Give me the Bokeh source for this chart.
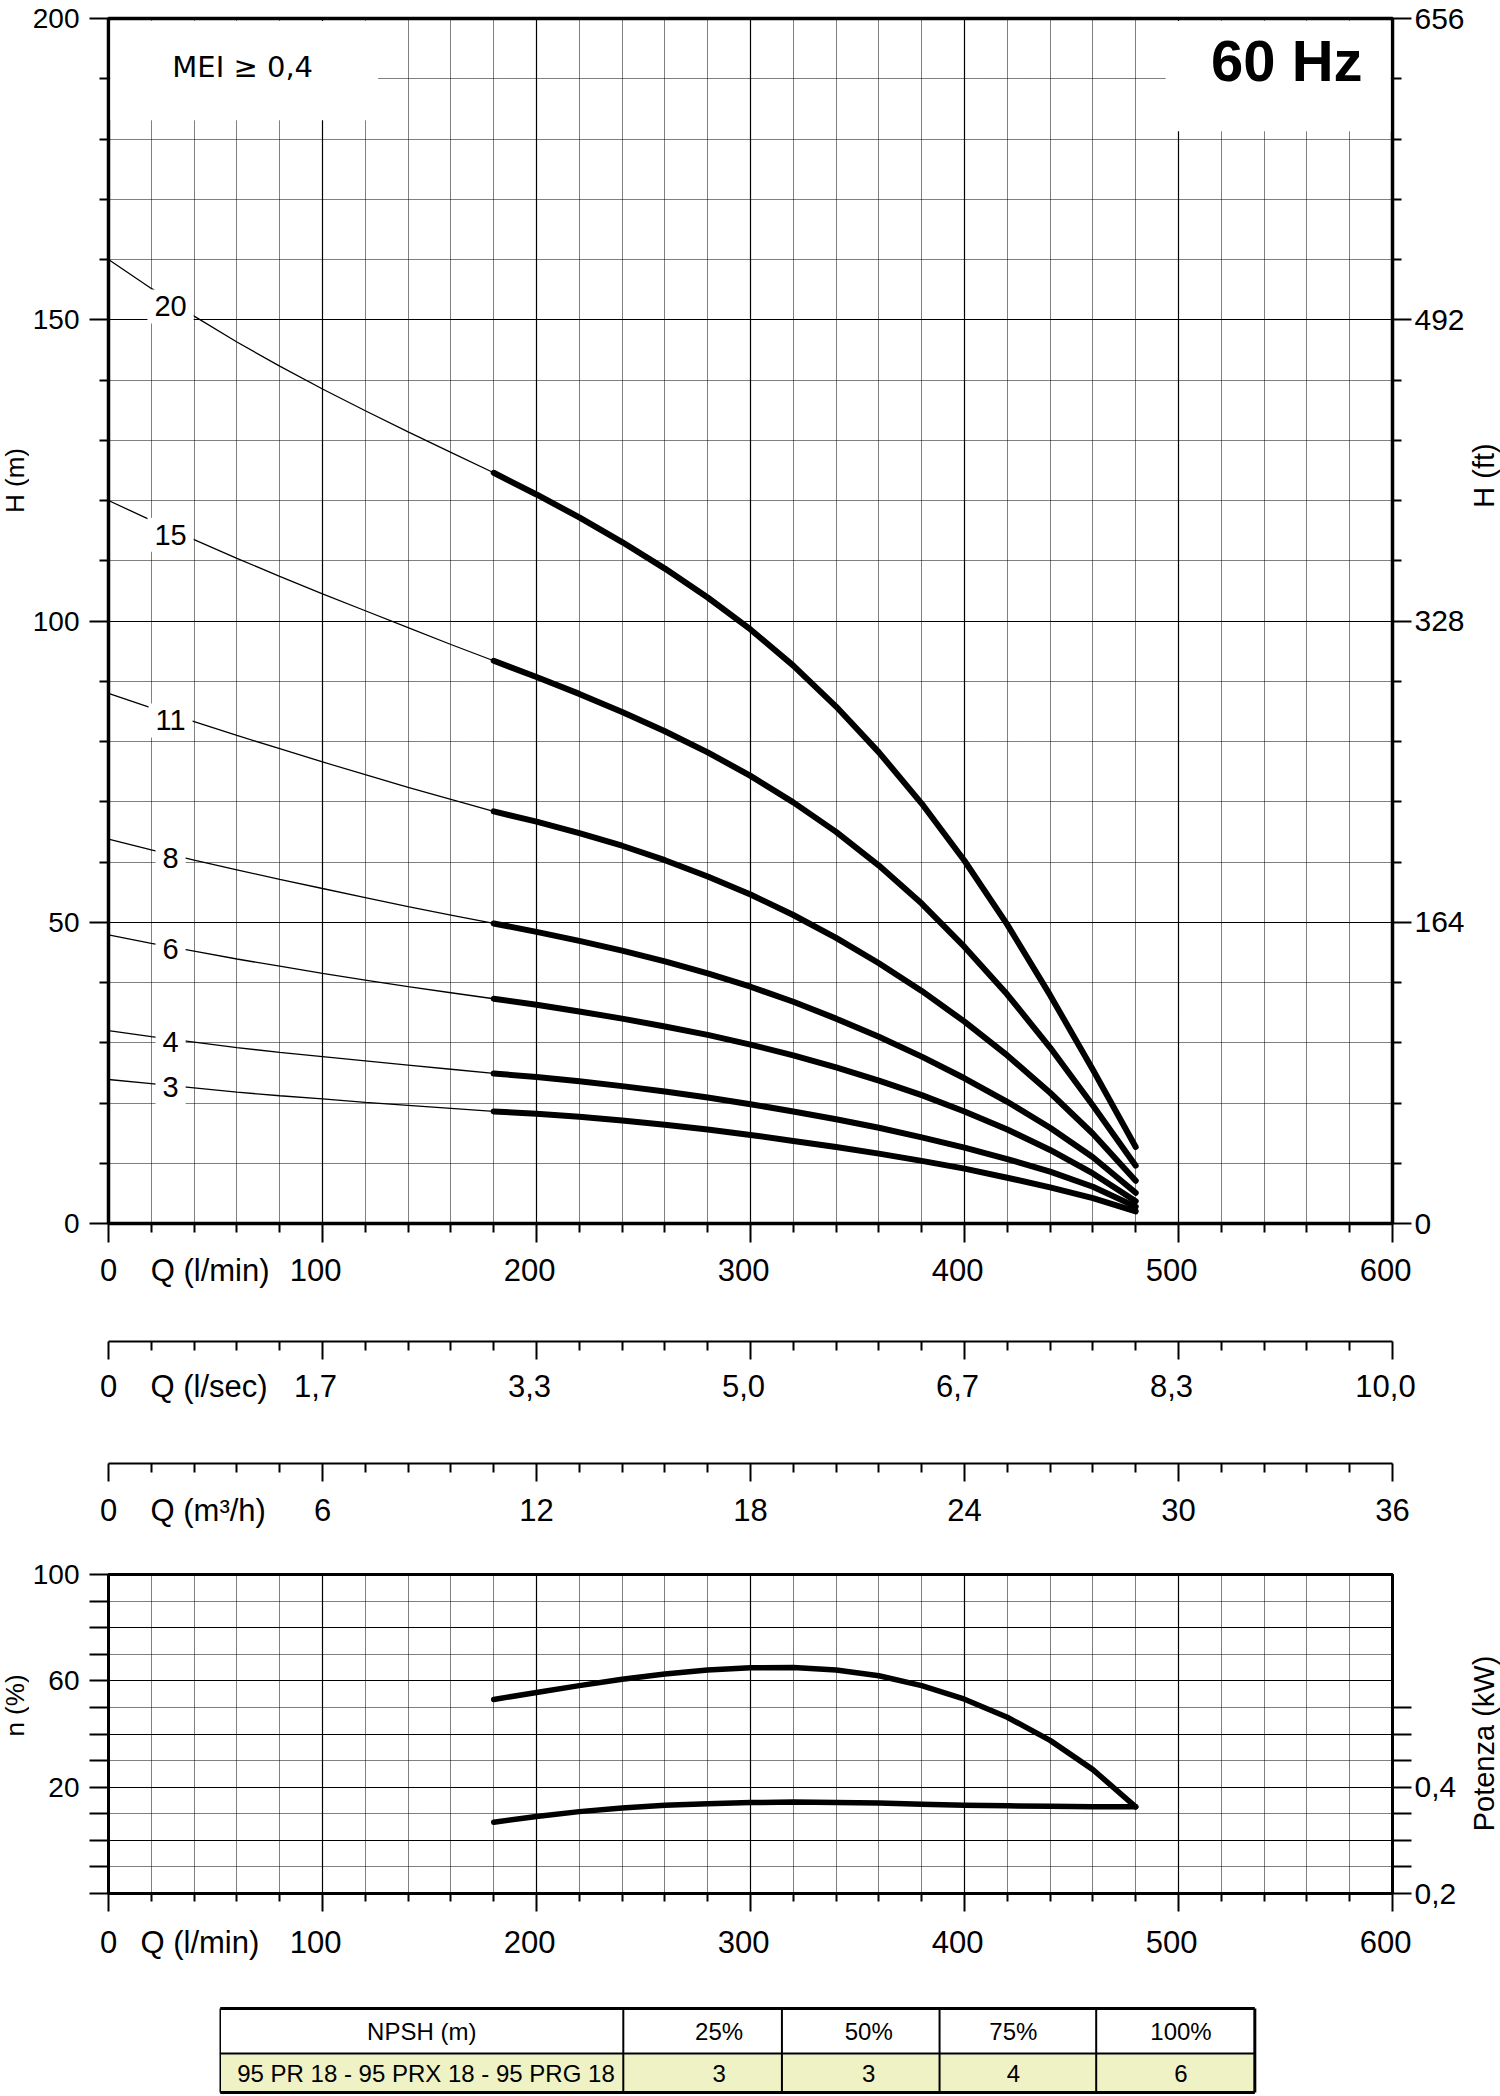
import numpy as np
from bokeh.plotting import figure
from bokeh.models import Range1d, FixedTicker, LinearAxis, Label, Grid
from bokeh.layouts import column, row
from bokeh.embed import file_html
from bokeh.resources import INLINE
from bokeh.core.properties import value

# ------------------------------------------------------------------ data
Q_LMIN = [0, 20, 40, 60, 80, 100, 120, 140, 160, 180, 200, 220, 240,
          260, 280, 300, 320, 340, 360, 380, 400, 420, 440, 460, 480]
Q_OPER_START = 180

STAGES = ["20", "15", "11", "8", "6", "4", "3"]
H_20 = [160, 155.2, 150.6, 146.3, 142.3, 138.5, 134.9, 131.4, 128.0, 124.6, 121.0, 117.2, 113.1,
        108.7, 103.9, 98.6, 92.6, 85.8, 78.2, 69.7, 60.2, 49.6, 37.9, 25.5, 12.7]
H_15 = [120, 116.7, 113.5, 110.4, 107.4, 104.5, 101.7, 98.9, 96.1, 93.4, 90.7, 87.9, 84.9,
        81.7, 78.2, 74.3, 69.9, 65.0, 59.4, 53.1, 45.9, 38.0, 29.2, 19.6, 9.6]
H_11 = [88, 85.6, 83.3, 81.0, 78.8, 76.6, 74.5, 72.4, 70.4, 68.4, 66.7, 64.8, 62.7,
        60.3, 57.6, 54.6, 51.2, 47.4, 43.2, 38.6, 33.5, 27.9, 21.7, 14.9, 7.1]
H_8 = [63.8, 62.0, 60.3, 58.7, 57.1, 55.6, 54.1, 52.6, 51.2, 49.8, 48.4, 46.9, 45.3,
       43.5, 41.5, 39.3, 36.8, 34.0, 31.0, 27.7, 24.1, 20.2, 15.9, 11.0, 5.1]
H_6 = [47.9, 46.5, 45.2, 43.9, 42.7, 41.5, 40.4, 39.3, 38.3, 37.3, 36.3, 35.2, 34.0,
       32.7, 31.3, 29.7, 27.9, 25.9, 23.7, 21.3, 18.6, 15.6, 12.2, 8.3, 3.7]
H_4 = [32.0, 31.0, 30.1, 29.2, 28.4, 27.7, 27.0, 26.3, 25.6, 24.9, 24.3, 23.6, 22.8,
       21.9, 20.9, 19.8, 18.6, 17.3, 15.9, 14.3, 12.6, 10.7, 8.6, 6.1, 2.8]
H_3 = [23.9, 23.2, 22.5, 21.8, 21.2, 20.7, 20.1, 19.6, 19.1, 18.6, 18.2, 17.7, 17.1,
       16.4, 15.6, 14.7, 13.7, 12.7, 11.6, 10.4, 9.1, 7.6, 6.0, 4.2, 2.0]
HEADS = [H_20, H_15, H_11, H_8, H_6, H_4, H_3]
STAGE_LABEL_Q = 29
STAGE_LABEL_H = [152.2, 114.3, 83.5, 60.7, 45.6, 30.2, 22.6]

EFF_Q = [180, 200, 220, 240, 260, 280, 300, 320, 340, 360, 380, 400, 420, 440, 460, 480]
EFF_PCT = [53.0, 55.6, 58.2, 60.6, 62.6, 64.1, 64.9, 65.0, 64.1, 61.9, 58.2, 53.1,
           46.3, 37.6, 26.6, 12.6]
POWER_KW = [0.334, 0.345, 0.354, 0.361, 0.366, 0.369, 0.371, 0.372, 0.371, 0.370,
            0.368, 0.366, 0.365, 0.364, 0.363, 0.363]

Q_MAJOR = [0, 100, 200, 300, 400, 500, 600]
LMIN_LABELS = ["0", "100", "200", "300", "400", "500", "600"]
LSEC_LABELS = ["0", "1,7", "3,3", "5,0", "6,7", "8,3", "10,0"]
M3H_LABELS = ["0", "6", "12", "18", "24", "30", "36"]
H_MAJOR = [0, 50, 100, 150, 200]
H_FT_LABELS = ["0", "164", "328", "492", "656"]
ETA_MAJOR = [20, 60, 100]
KW_MAJOR = [0.2, 0.4]
KW_LABELS = ["0,2", "0,4"]

NPSH_HEADER = ["NPSH (m)", "25%", "50%", "75%", "100%"]
NPSH_MODEL = "95 PR 18 - 95 PRX 18 - 95 PRG 18"
NPSH_VALUES = ["3", "3", "4", "6"]

# ------------------------------------------------------------------ layout
TOTAL_H = 2094
LEFT_STRIP, RIGHT_STRIP = 29, 33
W = 1500 - LEFT_STRIP - RIGHT_STRIP
ML = 106 - LEFT_STRIP           # frame starts at page x = 106
FRAME_W = 1287                  # frame ends at page x = 1393
MR = W - ML - FRAME_W
PX_Q = FRAME_W / 600.0
FONT = "Liberation Sans"

Q_MINOR = [q for q in range(0, 601, 20) if q % 100]
Q_GRID_MAJOR = Q_MAJOR[1:-1]
LABEL_SHIFT_Q = 7 / PX_Q      # printed labels sit a little left of their ticks


def base_fig(height, x_rng, y_rng, mt, mb, ml=ML, mr=MR, width=W):
    f = figure(width=width, height=height, x_range=x_rng, y_range=y_rng,
               x_axis_type=None, y_axis_type=None, output_backend="svg",
               toolbar_location=None, min_border_left=ml, min_border_right=mr,
               min_border_top=mt, min_border_bottom=mb)
    f.outline_line_color = None
    return f


def style_axis(ax, size="30px", standoff=10, major_out=19, minor_out=9, line=False):
    ax.major_label_text_font = FONT
    ax.major_label_text_font_size = size
    ax.major_label_text_color = "black"
    ax.major_label_standoff = standoff
    ax.major_tick_out = major_out
    ax.major_tick_in = 0
    ax.minor_tick_out = minor_out
    ax.minor_tick_in = 0
    ax.major_tick_line_width = 2
    ax.minor_tick_line_width = 2
    ax.major_tick_line_color = "black" if major_out else None
    ax.minor_tick_line_color = "black" if minor_out else None
    ax.axis_line_color = "black" if line else None
    ax.axis_line_width = 2


def add_q_axes(f, tick_major_out, tick_minor_out, labels, title, title_q, standoff,
               shift=True, line=False):
    # axis A: tick marks only (labels switched off)
    a = LinearAxis(ticker=FixedTicker(ticks=Q_MAJOR, minor_ticks=Q_MINOR))
    style_axis(a, "1px", 0, tick_major_out, tick_minor_out, line=line)
    a.major_label_text_color = None
    f.add_layout(a, "below")
    # axis B: printed labels (numbers + the quantity name)
    pos = [0.0] + [round(q - (LABEL_SHIFT_Q if shift else 0.0), 2) for q in Q_MAJOR[1:]]
    pos_all = [pos[0], title_q] + pos[1:]
    txt_all = [labels[0], title] + labels[1:]
    b = LinearAxis(ticker=FixedTicker(ticks=pos_all, minor_ticks=[]),
                   major_label_overrides=dict(zip(pos_all, txt_all)))
    style_axis(b, "31px", standoff, 0, 0, line=False)
    f.add_layout(b, "below")


def add_grid(p, dim, major, minor):
    g = Grid(dimension=dim, ticker=FixedTicker(ticks=major, minor_ticks=minor))
    g.grid_line_color = "black"
    g.grid_line_width = 1.2
    g.minor_grid_line_color = "black"
    g.minor_grid_line_width = 1
    g.minor_grid_line_dash = "1 1"
    p.add_layout(g)


def text_label(p, x, y, text, size, font=FONT, style="normal", **kw):
    p.add_layout(Label(x=x, y=y, text=text, text_font=font, text_font_size=size,
                       text_font_style=style, text_align="center",
                       text_baseline="middle", text_color="black", **kw))


# ------------------------------------------------------------------ main H-Q chart
MT1, FH1, MB1 = 18, 1205, 77
p = base_fig(MT1 + FH1 + MB1, Range1d(0, 600), Range1d(0, 200), MT1, MB1)
p.outline_line_color = "black"
p.outline_line_width = 3.5
p.outline_line_alpha = 1.0

add_grid(p, 0, Q_GRID_MAJOR, Q_MINOR)
add_grid(p, 1, [50, 100, 150], [h for h in range(10, 200, 10) if h % 50])

add_q_axes(p, 19, 9, LMIN_LABELS, "Q (l/min)", 47.5, 10)
H_MINOR = [h for h in range(0, 201, 10) if h % 50]
yl = LinearAxis(ticker=FixedTicker(ticks=H_MAJOR, minor_ticks=H_MINOR))
style_axis(yl, "28px", 10)
p.add_layout(yl, "left")
yr = LinearAxis(ticker=FixedTicker(ticks=H_MAJOR, minor_ticks=H_MINOR),
                major_label_overrides=dict(zip(H_MAJOR, H_FT_LABELS)))
style_axis(yr, "30px", 3)
p.add_layout(yr, "right")

# white boxes behind the two headings
p.quad(left=[0.9, 494], right=[126, 599.1], bottom=[183.1, 181.3], top=[199.6, 199.6],
       fill_color="white", line_color=None)

i0 = Q_LMIN.index(Q_OPER_START)
for heads in HEADS:
    p.line(Q_LMIN[:i0 + 1], heads[:i0 + 1], line_color="black", line_width=1.3)
    p.line(Q_LMIN[i0:], heads[i0:], line_color="black", line_width=6,
           line_cap="round", line_join="round")
for s, h in zip(STAGES, STAGE_LABEL_H):
    text_label(p, STAGE_LABEL_Q, h, s, "29px", background_fill_color="white", padding=7)

text_label(p, 62.7, 192, "MEI \u2265 0,4", "29px", font="DejaVu Sans")
text_label(p, 550.6, 193, "60 Hz", "58px", style="bold")

# ------------------------------------------------------------------ extra Q scales
p2 = base_fig(41 + 79, Range1d(0, 600), Range1d(0, 1), 0, 79)
add_q_axes(p2, 18, 9, LSEC_LABELS, "Q (l/sec)", 47, 9, line=True)
p3 = base_fig(43 + 77, Range1d(0, 600), Range1d(0, 1), 0, 77)
add_q_axes(p3, 18, 9, M3H_LABELS, "Q (m\u00b3/h)", 46.6, 11, shift=False, line=True)

# ------------------------------------------------------------------ efficiency / power chart
MT4, FH4, MB4 = 34, 319, 92
p4 = base_fig(MT4 + FH4 + MB4, Range1d(0, 600), Range1d(-20, 100), MT4, MB4)
p4.extra_y_ranges = {"kw": Range1d(0.2, 0.8)}
p4.outline_line_color = "black"
p4.outline_line_width = 3
p4.outline_line_alpha = 1.0
add_grid(p4, 0, Q_GRID_MAJOR, Q_MINOR)
add_grid(p4, 1, [0, 20, 40, 60, 80], [-10, 10, 30, 50, 70, 90])

add_q_axes(p4, 18, 8, LMIN_LABELS, "Q (l/min)", 42.7, 13)
yl4 = LinearAxis(ticker=FixedTicker(ticks=ETA_MAJOR,
                                    minor_ticks=[v for v in range(-20, 100, 10) if v not in ETA_MAJOR]))
style_axis(yl4, "28px", 10, 19, 19)
p4.add_layout(yl4, "left")
yr4 = LinearAxis(y_range_name="kw",
                 ticker=FixedTicker(ticks=KW_MAJOR, minor_ticks=[0.25, 0.3, 0.35, 0.45, 0.5, 0.55]),
                 major_label_overrides=dict(zip(KW_MAJOR, KW_LABELS)))
style_axis(yr4, "30px", 3, 19, 19)
p4.add_layout(yr4, "right")

p4.line(EFF_Q, EFF_PCT, line_color="black", line_width=5.5, line_cap="round", line_join="round")
p4.line(EFF_Q, POWER_KW, y_range_name="kw", line_color="black", line_width=5.5,
        line_cap="round", line_join="round")

# ------------------------------------------------------------------ NPSH table (page-x units)
TH = TOTAL_H - (MT1 + FH1 + MB1) - 120 - 120 - (MT4 + FH4 + MB4)
COL_X = [218, 622, 781, 939, 1096, 1255]
ROW_Y = [TH - 23, TH - 68, 2]
TEXT_X = [420, 718, 868, 1013, 1181]
p5 = base_fig(TH, Range1d(106, 106 + FRAME_W), Range1d(0, TH), 0, 0)
p5.quad(left=[COL_X[0]], right=[COL_X[-1]], top=[ROW_Y[1]], bottom=[ROW_Y[2]],
        fill_color="#eef2c4", line_color=None)
p5.segment(x0=[COL_X[0], COL_X[0]], y0=[ROW_Y[0], ROW_Y[2]],
           x1=[COL_X[-1], COL_X[-1]], y1=[ROW_Y[0], ROW_Y[2]], line_color="black", line_width=3)
p5.segment(x0=[COL_X[0]], y0=[ROW_Y[1]], x1=[COL_X[-1]], y1=[ROW_Y[1]],
           line_color="black", line_width=1.8)
p5.segment(x0=COL_X, y0=[ROW_Y[0]] * len(COL_X), x1=COL_X, y1=[ROW_Y[2]] * len(COL_X),
           line_color="black", line_width=[1.5, 2, 2, 2, 2, 3])
hy = (ROW_Y[0] + ROW_Y[1]) / 2
dy = (ROW_Y[1] + ROW_Y[2]) / 2
p5.text(x=TEXT_X, y=[hy] * 5, text=NPSH_HEADER, text_font=value(FONT),
        text_font_size="24px", text_align="center", text_baseline="middle", text_color="black")
p5.text(x=[COL_X[0] + 17], y=[dy], text=[NPSH_MODEL], text_font=value(FONT),
        text_font_size="24px", text_align="left", text_baseline="middle", text_color="black")
p5.text(x=TEXT_X[1:], y=[dy] * 4, text=NPSH_VALUES, text_font=value(FONT),
        text_font_size="24px", text_align="center", text_baseline="middle", text_color="black")

# ------------------------------------------------------------------ axis titles (side strips)
AXIS_TITLES_LEFT = ["H (m)", "n (%)"]
AXIS_TITLES_LEFT_Y = [480, 1705]          # page rows of the title centres
AXIS_TITLES_RIGHT = ["H (ft)", "Potenza (kW)"]
AXIS_TITLES_RIGHT_Y = [475, 1743]

sl = base_fig(TOTAL_H, Range1d(0, LEFT_STRIP), Range1d(0, TOTAL_H), 0, 0, ml=0, mr=0, width=LEFT_STRIP)
sl.text(x=[LEFT_STRIP / 2] * 2, y=[TOTAL_H - v for v in AXIS_TITLES_LEFT_Y], text=AXIS_TITLES_LEFT,
        angle=np.pi / 2, text_font=value(FONT), text_font_size="26px",
        text_align="center", text_baseline="middle", text_color="black")
sr = base_fig(TOTAL_H, Range1d(0, RIGHT_STRIP), Range1d(0, TOTAL_H), 0, 0, ml=0, mr=0, width=RIGHT_STRIP)
sr.text(x=[RIGHT_STRIP / 2] * 2, y=[TOTAL_H - v for v in AXIS_TITLES_RIGHT_Y], text=AXIS_TITLES_RIGHT,
        angle=np.pi / 2, text_font=value(FONT), text_font_size="29px",
        text_align="center", text_baseline="middle", text_color="black")

layout = row(sl, column(p, p2, p3, p4, p5), sr)
open("out.html", "w").write(file_html(layout, INLINE))
